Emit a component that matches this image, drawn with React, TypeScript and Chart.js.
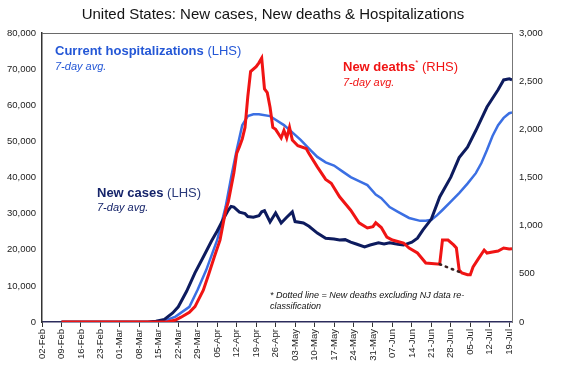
import React, { useEffect, useRef } from 'react';
import { Chart, registerables } from 'chart.js';

Chart.register(...registerables);

// ---- Data (day index 0 = 02-Feb) ----
const weekLabels = [
  '02-Feb', '09-Feb', '16-Feb', '23-Feb', '01-Mar', '08-Mar', '15-Mar', '22-Mar',
  '29-Mar', '05-Apr', '12-Apr', '19-Apr', '26-Apr', '03-May', '10-May', '17-May',
  '24-May', '31-May', '07-Jun', '14-Jun', '21-Jun', '28-Jun', '05-Jul', '12-Jul', '19-Jul',
];

const leftTicks = [0, 10000, 20000, 30000, 40000, 50000, 60000, 70000, 80000];
const rightTicks = [0, 500, 1000, 1500, 2000, 2500, 3000];

// New cases, 7-day avg (LHS)
const casesDays = [
  7, 38, 41, 44, 47, 49, 52, 55, 58, 61, 63, 65, 67, 68, 69, 71, 73, 74, 76, 78, 79, 80,
  82, 84, 86, 88, 90, 91, 94, 96, 99, 102, 105, 107, 109, 111, 113, 116, 118, 121, 123,
  125, 128, 130, 133, 135, 137, 140, 143, 147, 150, 153, 156, 160, 164, 166, 168, 169,
];
const casesValues = [
  0, 0, 200, 700, 2500, 4200, 8500, 13600, 18000, 22500, 25200, 28200, 31000, 32000,
  31800, 30400, 30000, 29200, 29000, 29400, 30500, 30800, 27700, 30200, 27400, 29000,
  30500, 27800, 27400, 26500, 24600, 23200, 23000, 22700, 22800, 22100, 21600, 20800,
  21300, 21900, 21600, 21900, 21500, 21300, 22100, 23200, 25500, 28500, 34600, 40100,
  45500, 48400, 53000, 59500, 64300, 67000, 67300, 67000,
];

// Current hospitalizations, 7-day avg (LHS)
const hospDays = [
  44, 48, 53, 56, 59, 61, 63, 66, 68, 70, 72, 74, 76, 78, 82, 84, 87, 90, 93, 96, 99,
  102, 105, 108, 111, 114, 117, 120, 122, 125, 128, 132, 136, 138, 140, 142, 144, 147,
  150, 153, 156, 158, 160, 162, 164, 166, 168, 169,
];
const hospValues = [
  300, 1500, 4200, 9000, 14300, 18500, 22700, 31800, 40000, 47600, 54500, 57000, 57500,
  57500, 57000, 56000, 54500, 52500, 50400, 48000, 45700, 44200, 43300, 41700, 40100,
  39000, 37900, 35300, 34300, 31800, 30500, 28800, 28000, 28000, 28300, 29500, 31000,
  33300, 35700, 38300, 41200, 44000, 47600, 51500, 54500, 56500, 57800, 58000,
];

// New deaths, 7-day avg (RHS)
const deathsDays = [
  7, 45, 48, 50, 53, 55, 58, 60, 62, 64, 66, 67, 69, 70, 71, 72, 73, 74, 75, 77, 78, 79,
  80, 81, 82, 83, 84, 86, 87, 88, 89, 90, 92, 95, 96, 99, 102, 104, 107, 111, 114, 117,
  119, 120, 122, 124, 126, 130, 132, 135, 138, 143, 144, 146, 148, 149, 150, 151, 153,
  154, 155, 157, 159, 160, 162, 164, 166, 168, 169,
];
const deathsValues = [
  0, 0, 20, 50, 100, 160, 330, 500, 680, 850, 1150, 1250, 1550, 1750, 1820, 1900, 2020,
  2340, 2600, 2650, 2690, 2740, 2420, 2380, 2230, 2020, 2000, 1910, 1990, 1910, 2020,
  1890, 1830, 1800, 1750, 1610, 1480, 1440, 1300, 1160, 1030, 976, 990, 1030, 980, 882,
  851, 820, 768, 716, 612, 600, 850, 850, 800, 768, 540, 509, 490, 490, 571, 660, 747,
  716, 727, 737, 768, 758, 760,
];

// New deaths excluding NJ re-classification (dotted, RHS)
const dottedDays = [143, 150];
const dottedValues = [600, 520];

// ---- Text ----
const titleText = 'United States: New cases, New deaths & Hospitalizations';
const hospLabel = 'Current hospitalizations';
const casesLabel = 'New cases';
const deathsLabel = 'New deaths';
const lhsText = ' (LHS)';
const rhsText = ' (RHS)';
const avgText = '7-day avg.';
const noteLine1 = '* Dotted line = New deaths excluding NJ data re-';
const noteLine2 = 'classification';

const FONT = "'Liberation Sans', Arial, Helvetica, sans-serif";
const NAVY = '#0d1b5e';
const BLUE = '#3b6fe3';
const RED = '#f01414';

const toXY = (days: number[], vals: number[]) => days.map((d, i) => ({ x: d, y: vals[i] }));

type Run = { text: string; font: string; color: string; dy?: number };

function drawRuns(ctx: CanvasRenderingContext2D, x: number, y: number, runs: Run[]) {
  let cx = x;
  for (const r of runs) {
    ctx.font = r.font;
    ctx.fillStyle = r.color;
    ctx.fillText(r.text, cx, y + (r.dy || 0));
    cx += ctx.measureText(r.text).width;
  }
}

const overlayPlugin = {
  id: 'overlay',
  beforeDatasetsDraw(chart: any) {
    const { ctx, chartArea: a } = chart;
    ctx.save();
    ctx.strokeStyle = '#6a6a6a';
    ctx.lineWidth = 1;
    ctx.beginPath();
    ctx.moveTo(a.left, a.top + 0.5);
    ctx.lineTo(a.right, a.top + 0.5);
    ctx.stroke();
    ctx.restore();
  },
  afterDraw(chart: any) {
    const { ctx, chartArea: a } = chart;
    ctx.save();
    ctx.textBaseline = 'middle';
    ctx.textAlign = 'center';
    ctx.font = `15px ${FONT}`;
    ctx.fillStyle = '#141414';
    ctx.fillText(titleText, 273, 15);

    ctx.textAlign = 'left';
    // Hospitalizations label
    drawRuns(ctx, a.left + 13, a.top + 18, [
      { text: hospLabel, font: `bold 13px ${FONT}`, color: '#2457d6' },
      { text: lhsText, font: `13px ${FONT}`, color: '#2457d6' },
    ]);
    drawRuns(ctx, a.left + 13, a.top + 34, [
      { text: avgText, font: `italic 11px ${FONT}`, color: '#2457d6' },
    ]);
    // Deaths label
    drawRuns(ctx, a.left + 301, a.top + 34, [
      { text: deathsLabel, font: `bold 13px ${FONT}`, color: RED },
      { text: '*', font: `8px ${FONT}`, color: RED, dy: -4 },
      { text: rhsText, font: `13px ${FONT}`, color: RED },
    ]);
    drawRuns(ctx, a.left + 301, a.top + 50, [
      { text: avgText, font: `italic 11px ${FONT}`, color: RED },
    ]);
    // Cases label
    drawRuns(ctx, a.left + 55, a.top + 160, [
      { text: casesLabel, font: `bold 13px ${FONT}`, color: '#16246a' },
      { text: lhsText, font: `13px ${FONT}`, color: '#2a3a7a' },
    ]);
    drawRuns(ctx, a.left + 55, a.top + 175, [
      { text: avgText, font: `italic 11px ${FONT}`, color: '#16246a' },
    ]);
    // Note
    drawRuns(ctx, a.left + 228, a.top + 262, [
      { text: noteLine1, font: `italic 9px ${FONT}`, color: '#111' },
    ]);
    drawRuns(ctx, a.left + 228, a.top + 273, [
      { text: noteLine2, font: `italic 9px ${FONT}`, color: '#111' },
    ]);
    ctx.restore();
  },
};

export default function App() {
  const ref = useRef<HTMLCanvasElement | null>(null);

  useEffect(() => {
    if (!ref.current) return;
    const tickFont = { family: FONT, size: 9.5 };
    const chart = new Chart(ref.current, {
      type: 'line',
      data: {
        datasets: [
          {
            label: 'New deaths (excl. NJ)',
            data: toXY(dottedDays, dottedValues),
            yAxisID: 'y2',
            borderColor: '#3a2020',
            borderWidth: 2.5,
            borderDash: [1.5, 5],
            borderCapStyle: 'round',
            pointRadius: 0,
            order: 0,
          },
          {
            label: 'New deaths',
            data: toXY(deathsDays, deathsValues),
            yAxisID: 'y2',
            borderColor: RED,
            borderWidth: 3,
            pointRadius: 0,
            tension: 0,
            order: 1,
          },
          {
            label: 'New cases',
            data: toXY(casesDays, casesValues),
            yAxisID: 'y',
            borderColor: NAVY,
            borderWidth: 3,
            pointRadius: 0,
            tension: 0,
            order: 2,
          },
          {
            label: 'Current hospitalizations',
            data: toXY(hospDays, hospValues),
            yAxisID: 'y',
            borderColor: BLUE,
            borderWidth: 2.5,
            pointRadius: 0,
            tension: 0,
            order: 3,
          },
        ],
      },
      options: {
        responsive: false,
        animation: false,
        layout: { padding: { top: 33, left: 0, right: 0, bottom: 0 } },
        plugins: {
          legend: { display: false },
          tooltip: { enabled: false },
          title: { display: false },
        },
        scales: {
          x: {
            type: 'linear',
            min: 0,
            max: 169,
            afterBuildTicks: (s: any) => {
              s.ticks = weekLabels.map((_, i) => ({ value: i * 7 }));
            },
            afterFit: (s: any) => {
              s.height = 46;
            },
            ticks: {
              autoSkip: false,
              maxRotation: 90,
              minRotation: 90,
              padding: 2,
              font: tickFont,
              color: '#222',
              callback: (v: any) => weekLabels[Math.round(Number(v) / 7)] ?? '',
            },
            grid: {
              display: true,
              drawOnChartArea: false,
              drawTicks: true,
              tickLength: 5,
              color: '#333',
            },
            border: { display: true, color: '#2c2c5c', width: 1.5 },
          },
          y: {
            position: 'left',
            min: 0,
            max: 80000,
            afterBuildTicks: (s: any) => {
              s.ticks = leftTicks.map((v) => ({ value: v }));
            },
            afterFit: (s: any) => {
              s.width = 42;
            },
            ticks: {
              padding: 6,
              font: tickFont,
              color: '#222',
              callback: (v: any) => Number(v).toLocaleString('en-US'),
            },
            grid: { display: false, drawTicks: false, tickLength: 0 },
            border: { display: true, color: '#333', width: 1.5 },
          },
          y2: {
            position: 'right',
            min: 0,
            max: 3000,
            afterBuildTicks: (s: any) => {
              s.ticks = rightTicks.map((v) => ({ value: v }));
            },
            afterFit: (s: any) => {
              s.width = 58;
            },
            ticks: {
              padding: 7,
              font: tickFont,
              color: '#222',
              callback: (v: any) => Number(v).toLocaleString('en-US'),
            },
            grid: { display: false, drawTicks: false, tickLength: 0 },
            border: { display: true, color: '#777', width: 1 },
          },
        },
      },
      plugins: [overlayPlugin],
    } as any);
    return () => chart.destroy();
  }, []);

  return (
    <div style={{ position: 'absolute', left: 0, top: 0, width: 570, height: 368, background: '#fff' }}>
      <canvas ref={ref} width={570} height={368} />
    </div>
  );
}
